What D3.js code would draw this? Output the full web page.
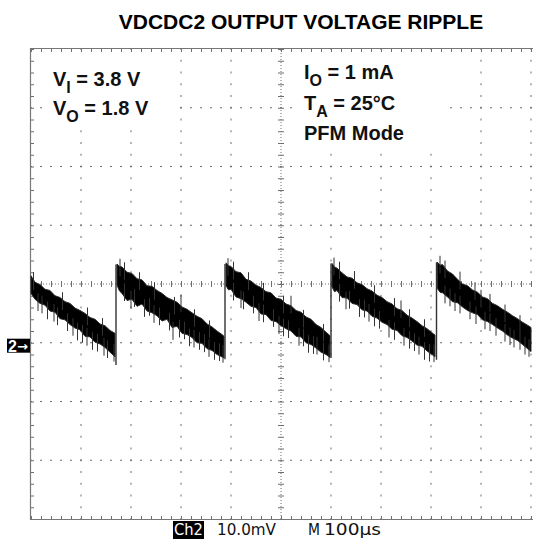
<!DOCTYPE html>
<html>
<head>
<meta charset="utf-8">
<script src="https://cdn.jsdelivr.net/npm/d3@7"></script>
<style>
  body { margin: 0; background: #fff; }
  svg { display: block; font-family: "Liberation Sans", Arial, sans-serif; }
</style>
</head>
<body>
<div id="scope"></div>
<script>
// Scope trace, time in µs (100 µs/div), level in mV from screen centre (10 mV/div)
// Each ramp is the noisy band between a high and a low edge
const seg1T  = [0, 8, 18, 28, 38, 48, 58, 68, 78, 88, 98, 108, 118, 128, 138, 148, 158, 168];
const seg1Hi = [1.4, 0.3, -0.1, -0.9, -1.1, -2.0, -2.3, -3.0, -3.3, -4.1, -4.5, -5.0, -5.7, -6.0, -6.8, -7.1, -7.9, -8.4];
const seg1Lo = [-1.6, -2.6, -3.3, -3.6, -4.6, -4.8, -5.9, -6.1, -6.9, -7.5, -7.8, -8.9, -9.0, -9.9, -10.2, -10.8, -11.6, -12.4];

const seg2T  = [172, 177, 182, 192, 202, 212, 222, 232, 242, 252, 262, 272, 282, 292, 302, 312, 322, 332, 342, 352, 362, 372, 382, 386];
const seg2Hi = [3.4, 3.0, 2.9, 2.0, 1.8, 0.9, 0.7, -0.3, -0.4, -1.1, -1.6, -2.3, -2.7, -3.1, -3.9, -4.3, -4.9, -5.5, -5.9, -6.8, -7.3, -8.0, -8.6, -8.9];
const seg2Lo = [-0.2, -1.2, -1.6, -2.8, -2.6, -3.8, -3.4, -4.6, -4.9, -5.4, -6.3, -6.0, -7.4, -7.2, -8.4, -8.6, -9.1, -10.0, -10.1, -11.0, -11.3, -12.0, -12.4, -12.6];

const seg3T  = [390, 395, 400, 410, 420, 430, 440, 450, 460, 470, 480, 490, 500, 510, 520, 530, 540, 550, 560, 570, 580, 590, 598];
const seg3Hi = [3.6, 3.1, 3.0, 2.1, 1.9, 0.8, 0.5, -0.2, -0.6, -1.3, -1.5, -2.4, -2.6, -3.4, -3.7, -4.5, -4.8, -5.6, -6.0, -6.9, -7.4, -8.2, -8.8];
const seg3Lo = [-0.3, -1.0, -0.9, -2.2, -2.5, -3.1, -3.8, -4.0, -5.1, -5.2, -6.2, -6.4, -7.1, -7.6, -8.0, -8.9, -9.0, -10.0, -10.3, -10.9, -11.6, -12.0, -12.5];

const seg4T  = [602, 607, 612, 622, 632, 642, 652, 662, 672, 682, 692, 702, 712, 722, 732, 742, 752, 762, 772, 782, 792, 802, 808];
const seg4Hi = [3.5, 2.9, 2.7, 1.9, 1.2, 1.0, 0.2, -0.1, -0.8, -1.2, -1.9, -2.3, -3.0, -3.4, -4.2, -4.5, -5.3, -5.8, -6.4, -7.1, -7.6, -8.3, -8.7];
const seg4Lo = [-0.5, -1.3, -1.1, -2.3, -2.4, -3.3, -3.5, -4.4, -4.6, -5.5, -5.8, -6.5, -6.9, -7.7, -7.9, -8.8, -9.1, -9.7, -10.4, -10.6, -11.4, -12.0, -12.4];

const seg5T  = [813, 818, 823, 833, 843, 853, 863, 873, 883, 893, 903, 913, 923, 933, 943, 953, 963, 973, 983, 993, 1000];
const seg5Hi = [3.7, 3.2, 3.3, 2.2, 1.7, 0.8, 0.0, -0.3, -1.0, -1.4, -2.2, -2.5, -3.3, -3.7, -4.3, -4.8, -5.4, -5.9, -6.5, -7.0, -7.4];
const seg5Lo = [-0.8, -1.4, -1.5, -2.2, -3.0, -3.2, -3.9, -4.5, -4.9, -5.2, -6.1, -6.4, -6.9, -7.5, -8.0, -8.7, -9.2, -9.6, -10.3, -11.0, -11.5];

// switching edges
const jumpT  = [170, 388, 600, 811];
const jumpLo = [-13.8, -12.8, -12.6, -12.9];
const jumpHi = [3.3, 3.4, 3.5, 3.7];

// noise spikes: tips below the low edge
const downT = [14, 22, 33, 46, 53, 73, 84, 93, 103, 112, 123, 133, 146, 153, 166,
  187, 200, 207, 227, 237, 246, 257, 277, 284, 297, 307, 317, 326, 337, 347, 356, 367, 377, 384,
  405, 420, 425, 445, 456, 465, 485, 496, 505, 515, 536, 545, 555, 565, 572, 585, 596,
  617, 630, 637, 657, 667, 676, 687, 697, 716, 727, 746, 757, 767, 776, 787, 797, 806,
  828, 838, 848, 858, 878, 890, 908, 918, 930, 948, 958, 966, 978, 988, 996];
const downTip = [-4.6, -5.0, -6.0, -6.4, -7.0, -8.0, -8.8, -9.6, -10.0, -10.5, -11.2, -11.5, -12.2, -12.6, -13.2,
  -2.9, -4.2, -3.9, -5.6, -5.4, -6.6, -7.0, -7.9, -9.5, -9.1, -9.4, -10.6, -10.8, -11.2, -11.6, -12.4, -12.9, -13.1, -13.4,
  -2.8, -4.1, -4.3, -5.0, -6.3, -6.5, -7.3, -8.5, -8.9, -9.2, -10.5, -10.6, -11.7, -11.9, -12.0, -13.0, -13.3,
  -3.0, -4.3, -4.2, -5.6, -5.7, -6.4, -7.2, -7.6, -9.1, -9.5, -10.5, -11.0, -11.4, -12.0, -12.9, -13.2, -13.3,
  -3.3, -3.8, -4.6, -5.0, -6.0, -6.8, -7.7, -8.0, -8.8, -9.8, -10.4, -10.8, -11.2, -12.0, -12.4];

// noise spikes: tips above the high edge
const upT = [5, 63, 113, 143,
  178, 187, 217, 247, 287, 300, 327, 357,
  394, 405, 435, 465, 505, 520, 545, 585,
  606, 617, 647, 687, 727, 740, 757, 787,
  818, 828, 858, 888, 900, 918, 948, 978];
const upTip = [2.0, -1.4, -4.0, -5.8,
  4.3, 3.7, 2.0, 0.3, -2.2, -1.8, -4.3, -6.2,
  4.4, 3.8, 2.0, 0.2, -2.0, -2.0, -4.4, -6.8,
  4.5, 3.8, 2.2, -0.2, -2.4, -2.8, -4.3, -6.0,
  4.8, 4.0, 2.1, 0.3, -1.0, -1.7, -3.5, -5.3];

const groundLevel = -10.5;   // "2→" channel marker
const titleText = "VDCDC2 OUTPUT VOLTAGE RIPPLE";

const svgWidth = 533;
const svgHeight = 539;
const plot = { left: 31, right: 531, top: 49, bottom: 519 };
const gridColor = "#6f6f6f";

const x = d3.scaleLinear().domain([0, 1000]).range([plot.left, plot.right]);
const y = d3.scaleLinear().domain([-40, 40]).range([plot.bottom, plot.top]);

const majorT = d3.range(0, 1001, 100);
const minorT = d3.range(0, 1001, 20);
const majorV = d3.range(-40, 41, 10);
const minorV = d3.range(-40, 40.1, 2);

const svg = d3.select("#scope")
  .append("svg")
  .attr("width", svgWidth)
  .attr("height", svgHeight);

// title
svg.append("text")
  .attr("x", 301)
  .attr("y", 29)
  .attr("text-anchor", "middle")
  .attr("font-size", 21)
  .attr("font-weight", "bold")
  .text(titleText);

// graticule
const grid = svg.append("g");

// dotted division lines
majorT.filter(t => t !== 0 && t !== 500).forEach(t => {
  grid.selectAll(null)
    .data(minorV)
    .enter()
    .append("rect")
    .attr("x", x(t) - 0.5)
    .attr("y", d => y(d) - 1)
    .attr("width", 1)
    .attr("height", 2)
    .attr("fill", gridColor);
});
majorV.filter(v => v !== -40 && v !== 40 && v !== 0).forEach(v => {
  grid.selectAll(null)
    .data(minorT)
    .enter()
    .append("rect")
    .attr("x", d => x(d) - 1)
    .attr("y", y(v) - 0.5)
    .attr("width", 2)
    .attr("height", 1)
    .attr("fill", gridColor);
});

// centre cross with minor ticks
grid.append("line")
  .attr("x1", x(0)).attr("x2", x(1000))
  .attr("y1", y(0)).attr("y2", y(0))
  .attr("stroke", gridColor)
  .attr("stroke-dasharray", "1,2");
grid.append("line")
  .attr("x1", x(500)).attr("x2", x(500))
  .attr("y1", y(-40)).attr("y2", y(40))
  .attr("stroke", gridColor)
  .attr("stroke-dasharray", "1,2");

function tickAxis(axis, transform) {
  const g = grid.append("g")
    .attr("transform", transform)
    .call(axis);
  g.select(".domain").remove();
  g.selectAll("text").remove();
  g.selectAll("line").attr("stroke", gridColor);
  return g;
}

tickAxis(d3.axisTop(x).tickValues(minorT).tickSize(3), `translate(0, ${y(0)})`);
tickAxis(d3.axisBottom(x).tickValues(minorT).tickSize(3), `translate(0, ${y(0)})`);
tickAxis(d3.axisLeft(y).tickValues(minorV).tickSize(3), `translate(${x(500)}, 0)`);
tickAxis(d3.axisRight(y).tickValues(minorV).tickSize(3), `translate(${x(500)}, 0)`);

// border ticks
tickAxis(d3.axisBottom(x).tickValues(minorT).tickSize(3), `translate(0, ${plot.top})`);
tickAxis(d3.axisTop(x).tickValues(minorT).tickSize(3), `translate(0, ${plot.bottom})`);
tickAxis(d3.axisRight(y).tickValues(minorV).tickSize(3), `translate(${plot.left}, 0)`);

// frame (left, top, bottom)
grid.append("path")
  .attr("d", `M${svgWidth},${plot.top - 0.5}H${plot.left - 0.5}V${plot.bottom + 0.5}H${svgWidth}`)
  .attr("fill", "none")
  .attr("stroke", "#777")
  .attr("stroke-width", 1.2);

// white boxes behind the annotations
svg.append("rect").attr("x", 42).attr("y", 57).attr("width", 130).attr("height", 70).attr("fill", "#fff");
svg.append("rect").attr("x", 292).attr("y", 55).attr("width", 158).attr("height", 97).attr("fill", "#fff");

function label(xPos, yPos, main, sub, rest) {
  const t = svg.append("text")
    .attr("x", xPos)
    .attr("y", yPos)
    .attr("font-size", 20)
    .attr("font-weight", "bold")
    .attr("fill", "#111");
  t.append("tspan").text(main);
  if (sub) {
    t.append("tspan").attr("dy", 7).attr("font-size", 16).text(sub);
    t.append("tspan").attr("dy", -7).text(rest);
  }
  return t;
}

label(53, 86, "V", "I", " = 3.8 V");
label(53, 115, "V", "O", " = 1.8 V");
label(304, 79, "I", "O", " = 1 mA");
label(304, 110, "T", "A", " = 25°C");
label(304, 140, "PFM Mode");

// trace
const trace = svg.append("g");
const ramps = [
  [seg1T, seg1Hi, seg1Lo],
  [seg2T, seg2Hi, seg2Lo],
  [seg3T, seg3Hi, seg3Lo],
  [seg4T, seg4Hi, seg4Lo],
  [seg5T, seg5Hi, seg5Lo]
];
const area = d3.area()
  .x(d => x(d.t))
  .y0(d => y(d.lo))
  .y1(d => y(d.hi));

ramps.forEach(([ts, his, los]) => {
  const pts = ts.map((t, i) => ({ t: t, hi: his[i], lo: los[i] }));
  trace.append("path")
    .datum(pts)
    .attr("d", area)
    .attr("fill", "#000")
    .attr("stroke", "#2a2a2a")
    .attr("stroke-width", 1);
});

const spikeLen = 3; // mV reaching back into the band
trace.selectAll("line.down")
  .data(downT)
  .enter()
  .append("line")
  .attr("class", "down")
  .attr("x1", d => x(d)).attr("x2", d => x(d))
  .attr("y1", (d, i) => y(downTip[i]))
  .attr("y2", (d, i) => y(downTip[i] + spikeLen))
  .attr("stroke", "#333")
  .attr("stroke-width", 1);

trace.selectAll("line.up")
  .data(upT)
  .enter()
  .append("line")
  .attr("class", "up")
  .attr("x1", d => x(d)).attr("x2", d => x(d))
  .attr("y1", (d, i) => y(upTip[i]))
  .attr("y2", (d, i) => y(upTip[i] - spikeLen))
  .attr("stroke", "#333")
  .attr("stroke-width", 1);

trace.selectAll("line.jump")
  .data(jumpT)
  .enter()
  .append("line")
  .attr("class", "jump")
  .attr("x1", d => x(d)).attr("x2", d => x(d))
  .attr("y1", (d, i) => y(jumpLo[i]))
  .attr("y2", (d, i) => y(jumpHi[i]))
  .attr("stroke", "#333")
  .attr("stroke-width", 1.4);

// channel ground marker
const gy = y(groundLevel);
svg.append("rect")
  .attr("x", 7).attr("y", gy - 7)
  .attr("width", 23).attr("height", 14)
  .attr("fill", "#000");
const marker = svg.append("text")
  .attr("x", 8).attr("y", gy + 6)
  .attr("font-size", 16)
  .attr("font-weight", "bold")
  .attr("fill", "#fff");
marker.append("tspan").text("2");
marker.append("tspan")
  .attr("font-family", "'DejaVu Sans', sans-serif")
  .attr("font-size", 13)
  .attr("dy", -1)
  .text("→");

// scope readout
svg.append("rect")
  .attr("x", 173).attr("y", 521)
  .attr("width", 31).attr("height", 18)
  .attr("fill", "#000");
const readout = [
  { text: "Ch2", x: 174, len: 29, fill: "#fff" },
  { text: "10.0mV", x: 217, len: 59, fill: "#111" },
  { text: "M", x: 308, len: 12, fill: "#111" },
  { text: "100µs", x: 324, len: 57, fill: "#111" }
];
svg.selectAll("text.readout")
  .data(readout)
  .enter()
  .append("text")
  .attr("class", "readout")
  .attr("x", d => d.x)
  .attr("y", 535)
  .attr("font-family", "'DejaVu Sans', sans-serif")
  .attr("font-size", 16)
  .attr("textLength", d => d.len)
  .attr("lengthAdjust", "spacingAndGlyphs")
  .attr("fill", d => d.fill)
  .text(d => d.text);
</script>
</body>
</html>
